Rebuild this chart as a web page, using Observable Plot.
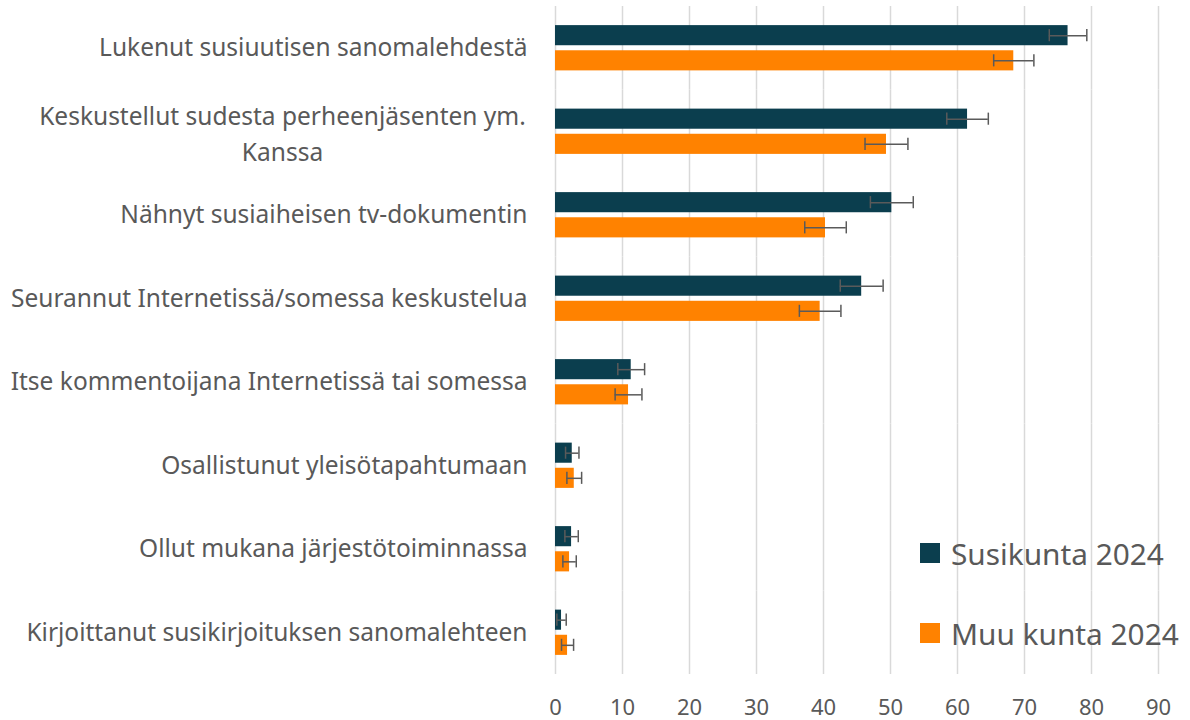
<!DOCTYPE html>
<html><head><meta charset="utf-8">
<script src="https://cdn.jsdelivr.net/npm/d3@7"></script>
<script src="https://cdn.jsdelivr.net/npm/@observablehq/plot@0.6"></script>
<style>
body{margin:0;background:#fff;}
#wrap{position:relative;width:1190px;height:720px;}
#legend{position:absolute;left:920px;top:530px;font-family:"Noto Sans",sans-serif;font-size:29.8px;color:#595959;}
#legend div{display:flex;align-items:center;height:46px;margin-bottom:34px;}
#legend span.sw{display:inline-block;width:20px;height:20px;margin-right:11px;}
</style></head>
<body><div id="wrap"><div id="legend"></div></div>
<script>
const categories = [
  "Lukenut susiuutisen sanomalehdestä",
  "Keskustellut sudesta perheenjäsenten ym.\nKanssa",
  "Nähnyt susiaiheisen tv-dokumentin",
  "Seurannut Internetissä/somessa keskustelua",
  "Itse kommentoijana Internetissä tai somessa",
  "Osallistunut yleisötapahtumaan",
  "Ollut mukana järjestötoiminnassa",
  "Kirjoittanut susikirjoituksen sanomalehteen"
];
const series = ["Susikunta 2024", "Muu kunta 2024"];
const susikunta = [76.5, 61.5, 50.2, 45.7, 11.3, 2.5, 2.4, 0.9];
const muuKunta = [68.4, 49.4, 40.3, 39.5, 10.9, 2.8, 2.1, 1.8];
const susikuntaErr = [2.8, 3.1, 3.2, 3.2, 2.0, 1.0, 1.0, 0.7];
const muuKuntaErr = [3.0, 3.2, 3.1, 3.1, 2.0, 1.1, 1.0, 0.9];
const xTicks = [0, 10, 20, 30, 40, 50, 60, 70, 80, 90];
const colors = ["#0b3e4e", "#ff8200"];

const data = [];
categories.forEach((c, i) => {
  data.push({category: c, series: series[0], value: susikunta[i], lo: susikunta[i] - susikuntaErr[i], hi: susikunta[i] + susikuntaErr[i]});
  data.push({category: c, series: series[1], value: muuKunta[i], lo: muuKunta[i] - muuKuntaErr[i], hi: muuKunta[i] + muuKuntaErr[i]});
});
const wrapped = categories.filter(c => c.includes("\n"));
const single = categories.filter(c => !c.includes("\n"));

const chart = Plot.plot({
  width: 1190, height: 720,
  marginLeft: 555, marginRight: 32, marginTop: 6, marginBottom: 46,
  style: {fontFamily: "Noto Sans, sans-serif", background: "white"},
  x: {domain: [0, 90]},
  fy: {domain: categories, padding: 0, label: null, round: false},
  y: {domain: series, paddingInner: 0.2, paddingOuter: 0.76, axis: null, round: false},
  color: {domain: series, range: colors},
  marks: [
    Plot.ruleX(xTicks, {stroke: "#d9d9d9", strokeWidth: 1.5}),
    Plot.barX(data, {x: "value", y: "series", fy: "category", fill: "series"}),
    Plot.ruleY(data, {y: "series", x1: "lo", x2: "hi", fy: "category", stroke: "#5a5a5a", strokeWidth: 1.5}),
    Plot.tickX(data, {x: "lo", y: "series", fy: "category", stroke: "#5a5a5a", strokeWidth: 1.5, insetTop: 4, insetBottom: 4}),
    Plot.tickX(data, {x: "hi", y: "series", fy: "category", stroke: "#5a5a5a", strokeWidth: 1.5, insetTop: 4, insetBottom: 4}),
    Plot.axisX({ticks: xTicks, tickSize: 0, tickPadding: 25, fontSize: 22, color: "#595959", label: null}),
    Plot.axisFy({anchor: "left", ticks: single, tickSize: 0, tickPadding: 28, fontSize: 24.5, color: "#595959", label: null}),
    Plot.text(wrapped, {fy: d => d, text: d => d, frameAnchor: "left", textAnchor: "middle", dx: -273, fontSize: 24.5, fill: "#595959", lineHeight: 1.45})
  ]
});
document.getElementById("wrap").prepend(chart);
chart.style.position = "absolute"; chart.style.left = "0"; chart.style.top = "0";

const lg = d3.select("#legend");
series.forEach((s, i) => {
  const row = lg.append("div");
  row.append("span").attr("class", "sw").style("background", colors[i]);
  row.append("span").text(s);
});
</script></body></html>
